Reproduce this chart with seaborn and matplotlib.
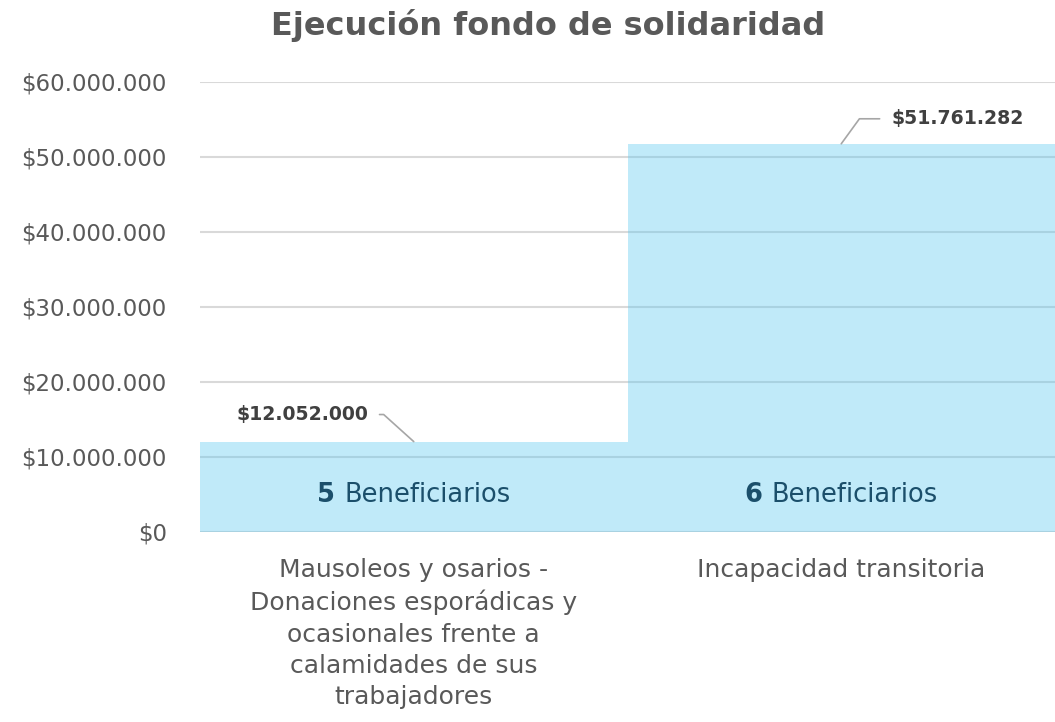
import matplotlib
matplotlib.use("Agg")
import matplotlib.pyplot as plt
import matplotlib.ticker as mticker
import seaborn as sns
import pandas as pd

# ---- data ----
categories = [
    "Mausoleos y osarios - Donaciones esporádicas y ocasionales frente a calamidades de sus trabajadores",
    "Incapacidad transitoria",
]
tick_labels = [
    "Mausoleos y osarios -\nDonaciones esporádicas y\nocasionales frente a\ncalamidades de sus\ntrabajadores",
    "Incapacidad transitoria",
]
values = [12052000, 51761282]
beneficiarios = [5, 6]
value_labels = ["$12.052.000", "$51.761.282"]
y_ticks = [0, 10000000, 20000000, 30000000, 40000000, 50000000, 60000000]
title = "Ejecución fondo de solidaridad"

sns.set_theme(style="white")
plt.rcParams["font.family"] = ["DejaVu Sans"]

df = pd.DataFrame({"categoria": categories, "valor": values})

fig = plt.figure(figsize=(10.55, 7.22), dpi=100)
ax = fig.add_axes([200 / 1055, 1 - 532 / 722, 1 - 200 / 1055, (532 - 82) / 722])

sns.barplot(data=df, x="categoria", y="valor", width=1.0, color="#5BC8F0",
            saturation=1, alpha=0.38, linewidth=0, ax=ax)

ax.set_ylim(0, 60000000)
ax.set_xlim(-0.5, 1.5)
ax.set_yticks(y_ticks)
ax.yaxis.set_major_formatter(mticker.FuncFormatter(
    lambda v, p: "$" + f"{v:,.0f}".replace(",", ".")))
ax.set_xticks(range(len(categories)))
ax.set_xticklabels(tick_labels, fontsize=18, color="#595959", linespacing=1.37)
ax.tick_params(axis="y", labelsize=16.5, labelcolor="#595959", length=0, pad=24)
ax.tick_params(axis="x", length=0, pad=19)
for lab in ax.get_xticklabels():
    lab.set_verticalalignment("top")
ax.set_xlabel("")
ax.set_ylabel("")
for s in ax.spines.values():
    s.set_visible(False)
ax.yaxis.grid(True, color="#D9D9D9", linewidth=1.5)
ax.set_axisbelow(True)

fig.text(0.52, 1 - 26 / 722, title, ha="center", va="center", fontsize=23,
         fontweight="bold", color="#595959")

# value labels with leader lines
offsets = [(-33, 19.5, "right", 138), (36, 18, "left", 54)]
for i, (v, lab) in enumerate(zip(values, value_labels)):
    dx, dy, ha, angB = offsets[i]
    ax.annotate(lab, xy=(i, v), xytext=(dx, dy), textcoords="offset points",
                ha=ha, va="center", fontsize=13.6, fontweight="bold", color="#404040",
                arrowprops=dict(arrowstyle="-", color="#A6A6A6", lw=1.2,
                                connectionstyle=f"angle,angleA=0,angleB={angB},rad=0",
                                shrinkA=6, shrinkB=0))

# beneficiarios labels inside bars
fig.canvas.draw()
renderer = fig.canvas.get_renderer()
for i, n in enumerate(beneficiarios):
    t1 = ax.text(i, 5000000, f"{n} ", ha="left", va="center", fontsize=18.5,
                 fontweight="bold", color="#1B4F6B")
    t2 = ax.text(i, 5000000, "Beneficiarios", ha="left", va="center", fontsize=18.5,
                 color="#1B4F6B")
    w1 = t1.get_window_extent(renderer).width
    w2 = t2.get_window_extent(renderer).width
    total = w1 + w2
    x0_disp = ax.transData.transform((i, 0))[0] - total / 2
    inv = ax.transData.inverted()
    x_start = inv.transform((x0_disp, 0))[0]
    x_second = inv.transform((x0_disp + w1, 0))[0]
    t1.set_x(x_start)
    t2.set_x(x_second)

fig.savefig("out.png", dpi=100)
